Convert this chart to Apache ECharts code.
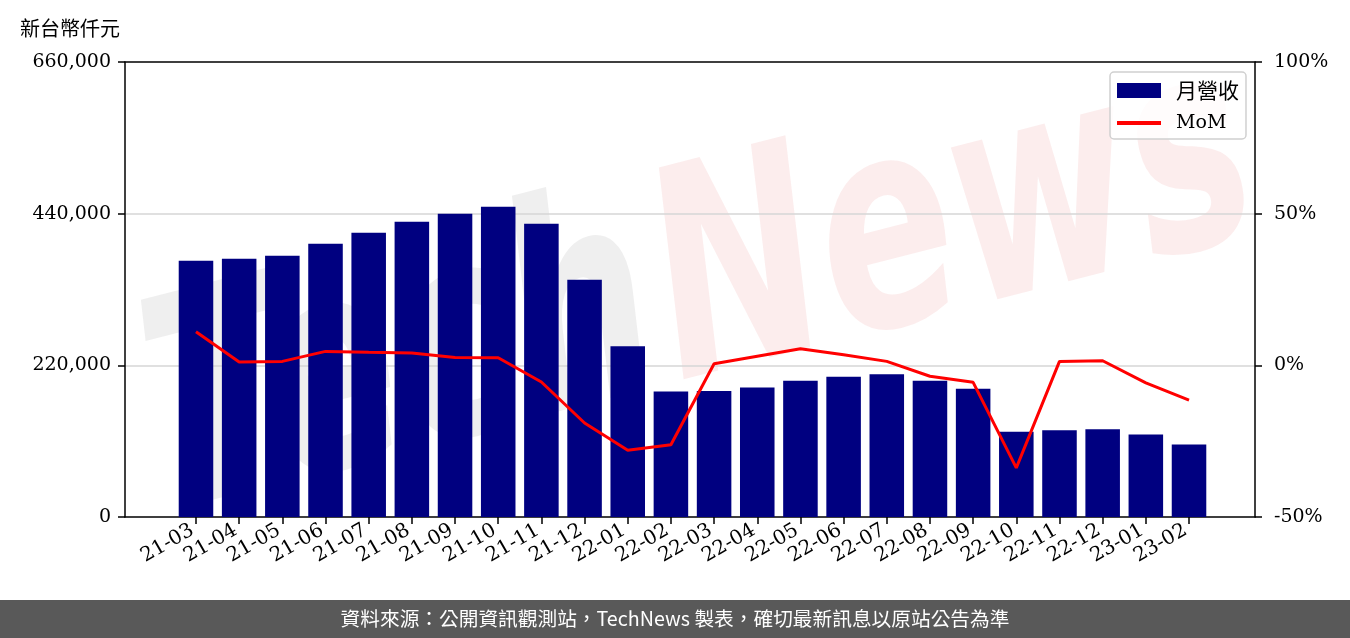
<!DOCTYPE html>
<html>
<head>
<meta charset="utf-8">
<script src="https://cdn.jsdelivr.net/npm/echarts@6/dist/echarts.min.js"></script>
<style>
html,body{margin:0;padding:0;background:#fff;}
#chart{width:1350px;height:638px;}
</style>
</head>
<body>
<div id="chart"></div>
<script>
const categories = ['21-03','21-04','21-05','21-06','21-07','21-08','21-09','21-10','21-11','21-12',
  '22-01','22-02','22-03','22-04','22-05','22-06','22-07','22-08','22-09','22-10','22-11','22-12','23-01','23-02'];
const revenue = [371800,374700,379100,396500,412400,428400,440000,450200,425500,344300,
  247600,181900,182800,187700,197800,203600,207000,197800,186200,123800,125700,127200,119500,105000];
const mom = [11.1,1.1,1.3,4.6,4.3,4.1,2.6,2.5,-5.5,-19.0,
  -28.0,-26.2,0.5,3.0,5.5,3.5,1.3,-3.6,-5.6,-33.8,1.3,1.5,-5.8,-11.5];
const leftTicks = {min:0, max:660000, interval:220000};
const rightTicks = {min:-50, max:100, interval:50};
const unitLabel = '新台幣仟元';
const footerText = '資料來源：公開資訊觀測站，TechNews 製表，確切最新訊息以原站公告為準';

const SERIF = '"DejaVu Serif", "Noto Sans CJK TC", serif';
const chart = echarts.init(document.getElementById('chart'), null, {renderer:'canvas'});
const black = '#000';
const option = {
  animation: false,
  backgroundColor: '#fff',
  grid: [
    {left:125, right:95, top:62, bottom:121},
    {left:174.4, right:139.4, top:62, bottom:121}
  ],
  legend: {
    left: 1110, top: 72,
    orient: 'vertical',
    padding: [8, 7, 6, 7],
    itemGap: 12,
    itemWidth: 44, itemHeight: 15,
    borderColor: '#d0d0d0', borderWidth: 1.5, borderRadius: 4,
    backgroundColor: 'rgba(255,255,255,0.8)',
    textStyle: {fontFamily: SERIF, fontSize: 19, color: '#000', lineHeight: 20, padding:[0,0,0,10],
      rich: {c: {fontFamily: '"Noto Sans CJK TC"', fontSize: 21, lineHeight: 20, color:'#000'}}},
    formatter: name => name === 'MoM' ? name : '{c|' + name + '}',
    data: [
      {name:'月營收', icon:'rect'},
      {name:'MoM', icon:'path://M0,0 M44,15 M0,5.5 L44,5.5 L44,9.5 L0,9.5 Z', itemStyle:{color:'#ff0000'}}
    ]
  },
  xAxis: [
    {gridIndex:0, type:'category', data:[''], position:'bottom',
     axisLine:{show:true, onZero:false, lineStyle:{color:black, width:1.5}}, axisTick:{show:false}, axisLabel:{show:false}},
    {gridIndex:0, type:'category', data:[''], position:'top',
     axisLine:{show:true, onZero:false, lineStyle:{color:black, width:1.5}}, axisTick:{show:false}, axisLabel:{show:false}},
    {gridIndex:1, type:'category', data:categories, position:'bottom',
     axisLine:{show:false, onZero:false},
     axisTick:{show:true, alignWithLabel:true, length:7, lineStyle:{color:black, width:1.5}},
     axisLabel:{rotate:30, interval:0, margin:10, padding:[0,4,0,0], fontFamily:SERIF, fontSize:20, color:'#000'}}
  ],
  yAxis: [
    {gridIndex:0, type:'value', min:leftTicks.min, max:leftTicks.max, interval:leftTicks.interval, position:'left',
     axisLine:{show:true, onZero:false, lineStyle:{color:black, width:1.5}},
     axisTick:{show:true, length:7, lineStyle:{color:black, width:1.5}},
     axisLabel:{margin:14, fontFamily:SERIF, fontSize:19, color:'#000',
       formatter: v => v.toLocaleString('en-US')},
     splitLine:{show:true, showMinLine:false, showMaxLine:false, lineStyle:{color:'#d6d6d6', width:1.5}}},
    {gridIndex:0, type:'value', min:rightTicks.min, max:rightTicks.max, interval:rightTicks.interval, position:'right',
     axisLine:{show:true, onZero:false, lineStyle:{color:black, width:1.5}},
     axisTick:{show:true, length:7, lineStyle:{color:black, width:1.5}},
     axisLabel:{margin:19, fontFamily:SERIF, fontSize:19, color:'#000', formatter: v => v + '%'},
     splitLine:{show:false}},
    {gridIndex:1, type:'value', min:leftTicks.min, max:leftTicks.max, show:false, splitLine:{show:false}},
    {gridIndex:1, type:'value', min:rightTicks.min, max:rightTicks.max, show:false, splitLine:{show:false}}
  ],
  series: [
    {name:'月營收', type:'bar', xAxisIndex:2, yAxisIndex:2, data:revenue, barWidth:'80%',
     itemStyle:{color:'#000080'}, z:2},
    {name:'MoM', type:'line', xAxisIndex:2, yAxisIndex:3, data:mom, symbol:'none',
     lineStyle:{color:'#ff0000', width:3}, itemStyle:{color:'#ff0000'}, z:3}
  ],
  graphic: [
    {type:'group', x:690, y:300, rotation:0.25, z:50, silent:true, scaleY:1.45,
     children:[
       {type:'text', x:-40, y:0, style:{text:'Tech', font:'italic bold 200px "DejaVu Sans"', fill:'rgba(120,120,120,0.12)', align:'right', verticalAlign:'middle'}},
       {type:'text', x:-30, y:0, style:{text:'News', font:'italic bold 200px "DejaVu Sans"', fill:'rgba(220,60,60,0.09)', align:'left', verticalAlign:'middle'}}
     ]},
    {type:'text', left:20, top:18, style:{text:unitLabel, font:'20px "Noto Sans CJK TC"', fill:'#000'}},
    {type:'rect', left:0, top:600, shape:{width:1350, height:38}, style:{fill:'#595959'}},
    {type:'text', x:675, y:619, style:{text:footerText, font:'19.7px "Noto Sans CJK TC"', fill:'#fff', align:'center', verticalAlign:'middle'}}
  ]
};
chart.setOption(option);
</script>
</body>
</html>
